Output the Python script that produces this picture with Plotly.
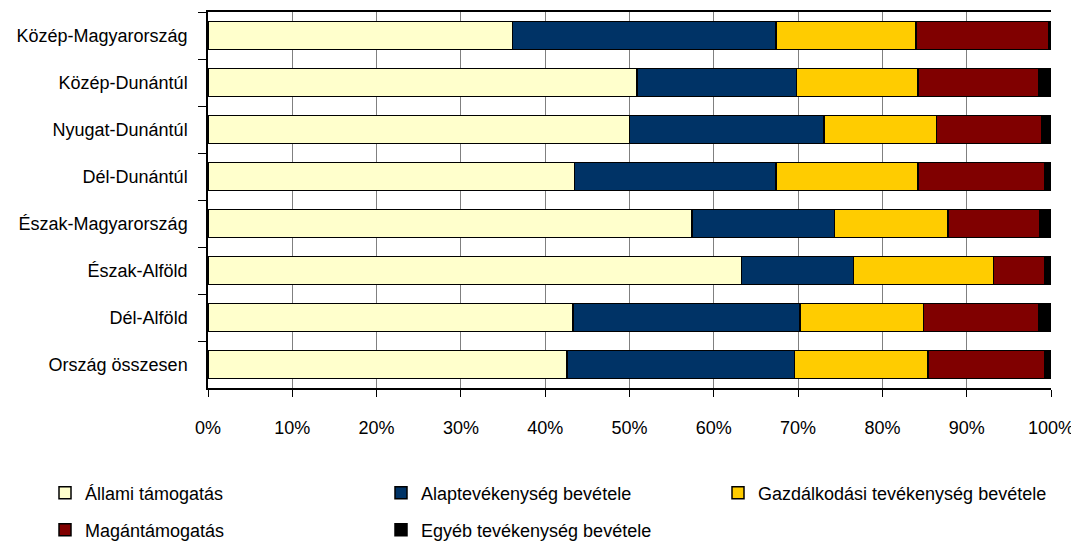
import plotly.graph_objects as go

regions = ["Közép-Magyarország", "Közép-Dunántúl", "Nyugat-Dunántúl", "Dél-Dunántúl",
           "Észak-Magyarország", "Észak-Alföld", "Dél-Alföld", "Ország összesen"]

allami = [36.1, 50.9, 50.0, 43.5, 57.4, 63.3, 43.3, 42.6]
alaptev = [31.3, 18.9, 23.1, 23.9, 16.9, 13.3, 26.9, 27.0]
gazdalk = [16.6, 14.4, 13.3, 16.8, 13.5, 16.6, 14.7, 15.8]
magan = [15.7, 14.3, 12.5, 15.1, 10.9, 6.1, 13.6, 13.9]
egyeb = [0.3, 1.5, 1.1, 0.7, 1.3, 0.7, 1.5, 0.7]

series_names = ["Állami támogatás", "Alaptevékenység bevétele", "Gazdálkodási tevékenység bevétele",
                "Magántámogatás", "Egyéb tevékenység bevétele"]
series_values = [allami, alaptev, gazdalk, magan, egyeb]
colors = ["#FFFFCC", "#003366", "#FFCC00", "#800000", "#000000"]
legend_ids = ["legend", "legend2", "legend3", "legend4", "legend5"]

FONT = "Liberation Sans, Arial, sans-serif"
FS = 18

# page has an 8px body margin; size figure so it fits the 1079x542 window
W, H = 1071, 534

fig = go.Figure()
for name, vals, col, lg in zip(series_names, series_values, colors, legend_ids):
    fig.add_trace(go.Bar(
        y=regions, x=vals, name=name, orientation="h",
        marker=dict(color=col, line=dict(color="#000000", width=1.5)),
        legend=lg, showlegend=True,
    ))

def leg(xpx, ypx):
    return dict(orientation="h", xanchor="left", yanchor="middle",
                yref="container", xref="container",
                x=xpx / W, y=1 - ypx / H,
                font=dict(family=FONT, size=FS, color="#000000"),
                bgcolor="rgba(0,0,0,0)", visible=True)

col_x = [37, 373, 710]
row_y = [485, 522]

fig.update_layout(
    showlegend=True,
    barmode="stack",
    barnorm="percent",
    bargap=0.4,
    width=W, height=H,
    margin=dict(l=200, r=28, t=4, b=154),
    paper_bgcolor="white", plot_bgcolor="white",
    font=dict(family=FONT, size=FS, color="#000000"),
    legend=leg(col_x[0], row_y[0]),
    legend2=leg(col_x[1], row_y[0]),
    legend3=leg(col_x[2], row_y[0]),
    legend4=leg(col_x[0], row_y[1]),
    legend5=leg(col_x[1], row_y[1]),
)

fig.update_xaxes(
    range=[0, 100], tickvals=[0, 10, 20, 30, 40, 50, 60, 70, 80, 90, 100],
    ticktext=["0%", "10%", "20%", "30%", "40%", "50%", "60%", "70%", "80%", "90%", "100%"],
    showgrid=True, gridcolor="#808080", gridwidth=1,
    showline=True, linecolor="#000000", linewidth=1.5, mirror=True,
    ticks="outside", ticklen=7, tickcolor="#000000",
    ticklabelstandoff=16, zeroline=False, automargin=False,
)
fig.update_yaxes(
    categoryorder="array", categoryarray=regions, autorange="reversed",
    showline=True, linecolor="#000000", linewidth=1.5,
    ticks="outside", ticklen=8, tickcolor="#000000", tickson="boundaries",
    ticklabelstandoff=15, showgrid=False, automargin=False,
)

fig.write_html("out.html")
